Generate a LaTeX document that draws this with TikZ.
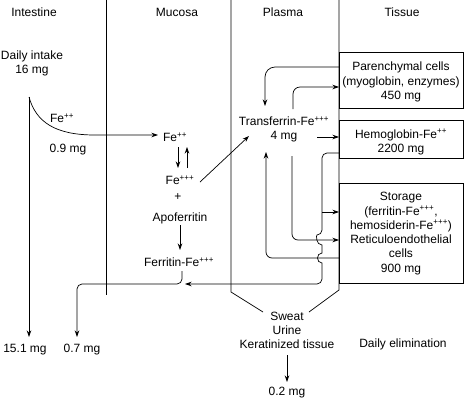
\documentclass[tikz,border=0pt]{standalone}
\usepackage{fontspec}
\setmainfont{Liberation Sans}
\usetikzlibrary{arrows.meta}
\begin{document}
\begin{tikzpicture}[x=1pt,y=-1pt,
  every node/.style={font=\fontsize{12}{14.3}\selectfont, inner sep=0pt, align=center},
  ln/.style={line width=0.7pt},
  arr/.style={ln,-{Stealth[length=6.5pt,width=4.5pt]}},
  boxst/.style={draw, line width=0.7pt}]
\useasboundingbox (0,0) rectangle (467,400);
% headers
\node (hInt) at (34,12) {Intestine};
\node (hMuc) at (177,12) {Mucosa};
\node (hPla) at (283,12) {Plasma};
\node (hTis) at (402,12) {Tissue};
% dividers
\coordinate (d1t) at (106,0); \coordinate (d1b) at (106,295);
\coordinate (d2t) at (231,0); \coordinate (d2b) at (231,292); \coordinate (d2e) at (263,312);
\coordinate (d3t) at (339,0); \coordinate (d3b) at (339,290); \coordinate (d3e) at (309,312);
\draw[ln] (d1t) -- (d1b);
\draw[ln] (d2t) -- (d2b) -- (d2e);
\draw[ln] (d3t) -- (d3b) -- (d3e);
% boxes
\draw[boxst] (339,52) rectangle (463,108);
\draw[boxst] (339,120) rectangle (463,158);
\draw[boxst] (339,183) rectangle (463,283);
\node (par) at (401,82) {Parenchymal cells\\(myoglobin, enzymes)\\450 mg};
\node (hem) at (401,142) {Hemoglobin-Fe\textsuperscript{++}\\2200 mg};
\node (sto) at (401,233.5) {Storage\\(ferritin-Fe\textsuperscript{+++},\\hemosiderin-Fe\textsuperscript{+++})\\Reticuloendothelial\\cells\\900 mg};
% intestine
\node (intake) at (32,63.5) {Daily intake\\16 mg};
\node (feA) at (62,118) {Fe\textsuperscript{++}};
\node (mgA) at (68,150) {0.9 mg};
\node (m151) at (25,350) {15.1 mg};
\node (m07) at (82,350) {0.7 mg};
% mucosa
\node (feB) at (175,137) {Fe\textsuperscript{++}};
\node (feC) at (180,180) {Fe\textsuperscript{+++}};
\node (plus) at (178,197) {+};
\node (apo) at (180,218) {Apoferritin};
\node (ferr) at (179,262) {Ferritin-Fe\textsuperscript{+++}};
% plasma
\node (tra) at (284,129.5) {Transferrin-Fe\textsuperscript{+++}\\4 mg};
% bottom
\node (elim) at (287,330.5) {Sweat\\Urine\\Keratinized tissue};
\node (delim) at (403,344) {Daily elimination};
\node (m02) at (287,393) {0.2 mg};
% intake arrows
\coordinate (src) at (29,97);
\coordinate (srcb) at (29,337);
\draw[arr] (src) -- (srcb);
\coordinate (fein) at (158,135);
\draw[arr] (src) .. controls (36,122) and (55,135) .. (95,135) -- (fein);
% mucosa arrows
\coordinate (dn1) at (178,147); \coordinate (dn2) at (178,168);
\draw[arr] (dn1) -- (dn2);
\coordinate (up1) at (187,168); \coordinate (up2) at (187,147);
\draw[arr] (up1) -- (up2);
\coordinate (fc) at (200,182); \coordinate (tin) at (249,136);
\draw[arr] (fc) -- (tin);
\coordinate (ap1) at (180,225); \coordinate (ap2) at (180,250);
\draw[arr] (ap1) -- (ap2);
% ferritin to 0.7 mg
\coordinate (fr1) at (182,271);
\coordinate (fr2) at (77,337);
\draw[arr, rounded corners=5pt] (fr1) -- (182,284) -- (77,284) -- (fr2);
% hemoglobin back path with hops
\coordinate (hb1) at (339,153);
\coordinate (hb2) at (185,284);
\draw[arr, rounded corners=5pt] (hb1) -- (322,153) -- (322,235)
  [sharp corners] .. controls (316,235) and (316,245) .. (322,245) -- (322,253)
  .. controls (316,253) and (316,263) .. (322,263) [rounded corners=5pt] -- (322,284) -- (hb2);
\coordinate (br1) at (322,212); \coordinate (br2) at (339,212);
\draw[arr] (br1) -- (br2);
% storage to transferrin
\coordinate (st1) at (339,258); \coordinate (st2) at (266,152);
\draw[arr, rounded corners=6pt] (st1) -- (266,258) -- (st2);
% transferrin to storage
\coordinate (ts1) at (292,156); \coordinate (ts2) at (339,240);
\draw[arr, rounded corners=6pt] (ts1) -- (292,240) -- (ts2);
% parenchymal to transferrin
\coordinate (pt1) at (339,67); \coordinate (pt2) at (265,106);
\draw[arr, rounded corners=10pt] (pt1) -- (265,67) -- (pt2);
% transferrin to parenchymal
\coordinate (tp1) at (293,109); \coordinate (tp2) at (339,87);
\draw[arr, rounded corners=7pt] (tp1) -- (293,87) -- (tp2);
% transferrin to hemoglobin
\coordinate (th1) at (317,137); \coordinate (th2) at (339,137);
\draw[arr] (th1) -- (th2);
% elimination arrow
\coordinate (el1) at (287,355); \coordinate (el2) at (287,382);
\draw[arr] (el1) -- (el2);
\end{tikzpicture}
\end{document}
